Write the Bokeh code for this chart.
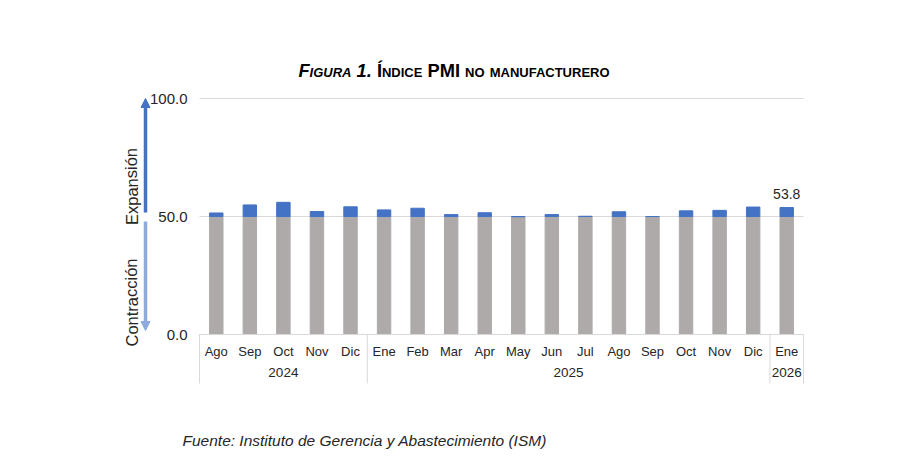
from bokeh.plotting import figure
from bokeh.models import (Range1d, Arrow, NormalHead, Div, FixedTicker,
                          NumeralTickFormatter, ColumnDataSource, LinearAxis)
from bokeh.layouts import column
from bokeh.embed import file_html
from bokeh.resources import INLINE
from bokeh.core.properties import value

# ---------------- data ----------------
years = ["2024"] * 5 + ["2025"] * 12 + ["2026"]
months = ["Ago", "Sep", "Oct", "Nov", "Dic", "Ene", "Feb", "Mar", "Apr", "May",
          "Jun", "Jul", "Ago", "Sep", "Oct", "Nov", "Dic", "Ene"]
pmi = [51.5, 54.9, 56.0, 52.1, 54.1, 52.8, 53.5, 50.8, 51.6, 49.9,
       50.8, 50.1, 52.0, 50.0, 52.4, 52.6, 54.0, 53.8]
threshold = 50.0
y_ticks = [0, 50, 100]
title_text = "Figura 1."
title_rest = "Índice PMI no manufacturero"
source_text = "Fuente: Instituto de Gerencia y Abastecimiento (ISM)"
up_label = "Expansión"
down_label = "Contracción"

# ---------------- styles / layout ----------------
GRAY = "#AEAAAA"
BLUE = "#4472C4"
LIGHT_BLUE = "#8FAADC"
TEXT = "#262626"
LINE = "#D9D9D9"
FONT = "Liberation Sans"

W, H_TITLE, H_FIG = 900, 90, 372
FRAME_L, FRAME_R = 199, 803          # pixel extent of the category area
FRAME_T, FRAME_B = 98 - H_TITLE, 334 - H_TITLE   # pixel extent of 0..100 inside figure
Y_MIN, Y_MAX = 0, 100

n = len(months)
xpos = [i + 0.5 for i in range(n)]
edges = [0] + [i for i in range(1, n) if years[i] != years[i - 1]] + [n]
year_names = [years[e] for e in edges[:-1]]
year_centers = [(edges[k] + edges[k + 1]) / 2 for k in range(len(edges) - 1)]

px_x = (FRAME_R - FRAME_L) / n
px_y = (FRAME_B - FRAME_T) / (Y_MAX - Y_MIN)
x_range = Range1d(-FRAME_L / px_x, n + (W - FRAME_R) / px_x)
y_range = Range1d(Y_MIN - (H_FIG - FRAME_B) / px_y, Y_MAX + FRAME_T / px_y)


def xd(px):  # page pixel -> data x
    return (px - FRAME_L) / px_x


def yd(py):  # page pixel -> data y (py in page coords)
    return Y_MIN + (FRAME_B + H_TITLE - py) / px_y


p = figure(x_range=x_range, y_range=y_range, width=W, height=H_FIG,
           output_backend="svg", toolbar_location=None,
           min_border=0, min_border_left=0, min_border_right=0,
           min_border_top=0, min_border_bottom=0)
p.outline_line_color = None
p.background_fill_color = "white"
p.border_fill_color = "white"
p.xgrid.visible = False
p.ygrid.visible = False

# horizontal gridlines restricted to the category area
p.segment(x0=[0] * len(y_ticks), x1=[n] * len(y_ticks), y0=y_ticks, y1=y_ticks,
          line_color=LINE, line_width=1)

# bars: grey up to 50, blue from 50 to value
src = ColumnDataSource(dict(x=xpos, base=[threshold] * n, pmi=pmi))
p.vbar(x="x", top="base", bottom=0, width=0.4, color=GRAY, source=src)
p.vbar(x="x", top="pmi", bottom="base", width=0.4, color=BLUE, source=src)

# label of the latest value
last = ColumnDataSource(dict(x=[xpos[-1]], y=[pmi[-1]], t=[f"{pmi[-1]:.1f}"]))
p.text(x="x", y="y", text="t", source=last, text_align="center",
       text_baseline="bottom", y_offset=-9, text_font=value(FONT),
       text_font_size="14px", text_color=TEXT)

# y axis fixed at the left edge of the category area
ya = p.yaxis[0]
ya.fixed_location = 0
ya.ticker = FixedTicker(ticks=y_ticks)
ya.formatter = NumeralTickFormatter(format="0.0")
ya.axis_line_color = None
ya.major_tick_line_color = None
ya.minor_tick_line_color = None
ya.major_tick_out = 0
ya.major_label_standoff = 12
ya.major_label_text_font = FONT
ya.major_label_text_font_size = "15px"
ya.major_label_text_color = TEXT

# month axis
xa = p.xaxis[0]
xa.fixed_location = 0
xa.bounds = (0, n)
xa.ticker = FixedTicker(ticks=xpos)
xa.major_label_overrides = {x: m for x, m in zip(xpos, months)}
xa.axis_line_color = LINE
xa.major_tick_line_color = None
xa.minor_tick_line_color = None
xa.major_tick_out = 0
xa.major_label_standoff = 9
xa.major_label_text_font = FONT
xa.major_label_text_font_size = "13px"
xa.major_label_text_color = TEXT

# year axis
yr = LinearAxis(fixed_location=0, ticker=FixedTicker(ticks=year_centers),
                major_label_overrides={c: y for c, y in zip(year_centers, year_names)},
                axis_line_color=None, major_tick_line_color=None,
                minor_tick_line_color=None, major_tick_out=0,
                major_label_standoff=33, major_label_text_font=FONT,
                major_label_text_font_size="13.5px", major_label_text_color=TEXT)
p.add_layout(yr, "below")

# table separators below the axis
y_tab = yd(383)
p.segment(x0=edges, x1=edges, y0=[0] * len(edges), y1=[y_tab] * len(edges),
          line_color=LINE, line_width=1)

# expansion / contraction arrows and labels
ax = xd(145)
p.add_layout(Arrow(x_start=ax, y_start=yd(212), x_end=ax, y_end=Y_MAX,
                   line_color=BLUE, line_width=3.5,
                   end=NormalHead(size=9, fill_color=BLUE, line_color=BLUE)))
p.add_layout(Arrow(x_start=ax, y_start=yd(221), x_end=ax, y_end=yd(330),
                   line_color=LIGHT_BLUE, line_width=3.5,
                   end=NormalHead(size=9, fill_color=LIGHT_BLUE, line_color=LIGHT_BLUE)))
side = ColumnDataSource(dict(x=[xd(131), xd(131)], y=[yd(186), yd(302)],
                             t=[up_label, down_label]))
p.text(x="x", y="y", text="t", source=side, angle=1.5708, text_align="center",
       text_baseline="middle", text_font=value(FONT), text_font_size="16.5px",
       text_color=TEXT)

# source note
note = ColumnDataSource(dict(x=[xd(182)], y=[yd(440)], t=[source_text]))
p.text(x="x", y="y", text="t", source=note, text_align="left",
       text_baseline="alphabetic", text_font=value(FONT), text_font_size="15.5px",
       text_font_style="italic", text_color=TEXT)

title = Div(text=(
    f'<div style="width:{W}px;height:{H_TITLE}px;box-sizing:border-box;padding-top:61px;'
    'padding-left:8px;text-align:center;font-family:\'Liberation Sans\',Arial,sans-serif;'
    'font-size:18.3px;line-height:20px;font-weight:bold;font-variant:small-caps;color:#000;">'
    f'<i>{title_text}</i> {title_rest}</div>'),
    width=W, height=H_TITLE, margin=(0, 0, 0, 0))

layout = column(title, p, spacing=0)
open("out.html", "w").write(file_html(layout, INLINE))
